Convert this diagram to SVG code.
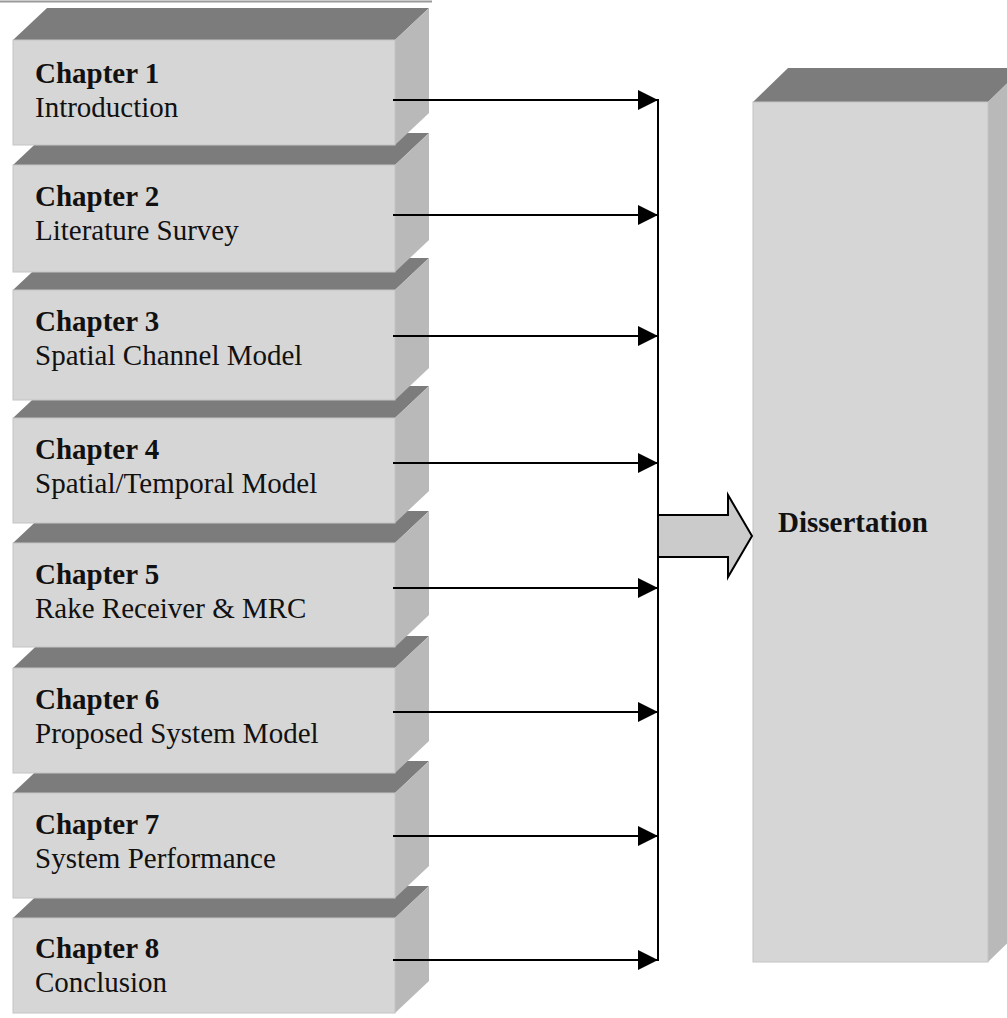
<svg xmlns="http://www.w3.org/2000/svg" width="1007" height="1018" viewBox="0 0 1007 1018">
<style>
.front{fill:#d6d6d6;stroke:#c4c4c4;stroke-width:1}
.top{fill:#7c7c7c}
.side{fill:#b9b9b9}
.t1{font-family:"Liberation Serif","Times New Roman",serif;font-size:29px;font-weight:bold;fill:#111}
.t2{font-family:"Liberation Serif","Times New Roman",serif;font-size:29px;fill:#111}
.conn{stroke:#000;stroke-width:2;fill:none}
</style>
<defs>
<marker id="ah" markerWidth="20" markerHeight="20" viewBox="0 0 20 20" refX="20" refY="10" orient="auto" markerUnits="userSpaceOnUse">
<path d="M0,0 L20,10 L0,20 Z" fill="#000"/>
</marker>
</defs>
<rect width="1007" height="1018" fill="#fff"/>
<line x1="0" y1="1.5" x2="432" y2="1.5" stroke="#999" stroke-width="2"/>

<g id="chapter8">
<polygon class="top" points="13,918 395,918 429,886 47,886"/>
<polygon class="side" points="395,918 429,886 429,981 395,1013"/>
<rect class="front" x="13" y="918" width="382" height="95"/>
<text class="t1" x="35" y="958">Chapter 8</text>
<text class="t2" x="35" y="992">Conclusion</text>
</g>
<g id="chapter7">
<polygon class="top" points="13,793 395,793 429,761 47,761"/>
<polygon class="side" points="395,793 429,761 429,866 395,898"/>
<rect class="front" x="13" y="793" width="382" height="105"/>
<text class="t1" x="35" y="834">Chapter 7</text>
<text class="t2" x="35" y="868">System Performance</text>
</g>
<g id="chapter6">
<polygon class="top" points="13,668 395,668 429,636 47,636"/>
<polygon class="side" points="395,668 429,636 429,741 395,773"/>
<rect class="front" x="13" y="668" width="382" height="105"/>
<text class="t1" x="35" y="709">Chapter 6</text>
<text class="t2" x="35" y="743">Proposed System Model</text>
</g>
<g id="chapter5">
<polygon class="top" points="13,543 395,543 429,511 47,511"/>
<polygon class="side" points="395,543 429,511 429,615 395,647"/>
<rect class="front" x="13" y="543" width="382" height="104"/>
<text class="t1" x="35" y="584">Chapter 5</text>
<text class="t2" x="35" y="618">Rake Receiver &amp; MRC</text>
</g>
<g id="chapter4">
<polygon class="top" points="13,418 395,418 429,386 47,386"/>
<polygon class="side" points="395,418 429,386 429,491 395,523"/>
<rect class="front" x="13" y="418" width="382" height="105"/>
<text class="t1" x="35" y="459">Chapter 4</text>
<text class="t2" x="35" y="493">Spatial/Temporal Model</text>
</g>
<g id="chapter3">
<polygon class="top" points="13,290 395,290 429,258 47,258"/>
<polygon class="side" points="395,290 429,258 429,368 395,400"/>
<rect class="front" x="13" y="290" width="382" height="110"/>
<text class="t1" x="35" y="331">Chapter 3</text>
<text class="t2" x="35" y="365">Spatial Channel Model</text>
</g>
<g id="chapter2">
<polygon class="top" points="13,165 395,165 429,133 47,133"/>
<polygon class="side" points="395,165 429,133 429,240 395,272"/>
<rect class="front" x="13" y="165" width="382" height="107"/>
<text class="t1" x="35" y="206">Chapter 2</text>
<text class="t2" x="35" y="240">Literature Survey</text>
</g>
<g id="chapter1">
<polygon class="top" points="13,40 395,40 429,8 47,8"/>
<polygon class="side" points="395,40 429,8 429,113 395,145"/>
<rect class="front" x="13" y="40" width="382" height="105"/>
<text class="t1" x="35" y="83">Chapter 1</text>
<text class="t2" x="35" y="117">Introduction</text>
</g>

<g id="dissertation">
<polygon class="top" points="753,102 988,102 1023,68 788,68"/>
<polygon class="side" points="988,102 1023,68 1023,928 988,962"/>
<rect class="front" x="753" y="102" width="235" height="860"/>
<text class="t1" x="778" y="532">Dissertation</text>
</g>

<g id="connectors">
<line class="conn" x1="393" y1="100" x2="658" y2="100" marker-end="url(#ah)"/>
<line class="conn" x1="393" y1="215" x2="658" y2="215" marker-end="url(#ah)"/>
<line class="conn" x1="393" y1="336" x2="658" y2="336" marker-end="url(#ah)"/>
<line class="conn" x1="393" y1="463" x2="658" y2="463" marker-end="url(#ah)"/>
<line class="conn" x1="393" y1="588" x2="658" y2="588" marker-end="url(#ah)"/>
<line class="conn" x1="393" y1="712" x2="658" y2="712" marker-end="url(#ah)"/>
<line class="conn" x1="393" y1="836" x2="658" y2="836" marker-end="url(#ah)"/>
<line class="conn" x1="393" y1="960" x2="658" y2="960" marker-end="url(#ah)"/>
<line class="conn" x1="658" y1="99" x2="658" y2="961"/>
<polygon points="658,515 728,515 728,495 752,536 728,577 728,557 658,557" fill="#cbcbcb" stroke="#000" stroke-width="2"/>
</g>
</svg>
